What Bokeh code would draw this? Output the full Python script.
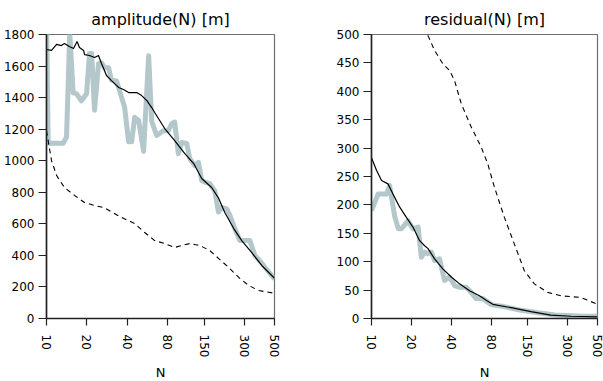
from bokeh.plotting import figure
from bokeh.layouts import row
from bokeh.models import Range1d, FixedTicker, NumeralTickFormatter
from bokeh.embed import file_html
from bokeh.resources import INLINE

# ---------------- data ----------------
x_ticks = [10, 20, 40, 80, 150, 300, 500]
amp_y_ticks = [0, 200, 400, 600, 800, 1000, 1200, 1400, 1600, 1800]
res_y_ticks = [0, 50, 100, 150, 200, 250, 300, 350, 400, 450, 500]

# amplitude panel
amp_raw_n = [10, 10.3, 13.3, 14.1, 14.9, 15.8, 16.7, 18.2, 19.9, 20.9,
             21.7, 22.8, 24.4, 25.7, 27.1, 29, 30.5, 33.3, 36.3, 38.2,
             40.9, 43.1, 45.4, 48.6, 52.9, 57.7, 60.8, 66.2, 74.3, 80.9,
             85.7, 90.2, 96.1, 101.7, 110.8, 116.7, 127.2, 135.5, 143.4, 151,
             164.6, 179.3, 191.1, 202.3, 220.3, 232.1, 252.9, 275.5, 300.2, 327.2,
             356.6, 402.1, 453.6, 500]
amp_raw_v = [1900, 1110, 1110, 1150, 1810, 1430, 1425, 1380, 1425, 1680,
             1680, 1320, 1615, 1620, 1590, 1590, 1510, 1505, 1400, 1340,
             1120, 1120, 1275, 1255, 1060, 1665, 1250, 1160, 1190, 1190,
             1235, 1245, 1045, 1115, 1110, 1015, 970, 990, 875, 865,
             855, 810, 675, 705, 695, 655, 570, 495, 495, 495,
             400, 350, 295, 250]

amp_fit_n = [10, 10.9, 11.9, 12.9, 13.6, 14.8, 15.9, 16.9, 17.6, 18.9,
             19.2, 20.9, 22.8, 24.4, 25.7, 28, 30.5, 34.5, 37.5, 40.9,
             47, 51.2, 55.8, 60.8, 64, 76, 90.2, 107, 125, 143.4,
             170, 192, 213, 248.5, 285, 338.6, 402, 500]
amp_fit_v = [1705, 1699, 1737, 1730, 1743, 1724, 1711, 1756, 1718, 1699,
             1673, 1667, 1654, 1667, 1616, 1540, 1508, 1464, 1451, 1432,
             1432, 1413, 1382, 1337, 1306, 1204, 1128, 1046, 982, 887,
             830, 761, 672, 570, 494, 418, 336, 255]

amp_ref_n = [10, 10.9, 11.9, 13.6, 16.2, 19.2, 22.8, 26.6, 36.3, 45.4,
             53.9, 64, 76, 90.2, 101.7, 116.7, 138.6, 164.6, 192, 228,
             271, 321.6, 382, 500]
amp_ref_v = [1190, 1001, 906, 830, 780, 735, 716, 704, 640, 602,
             545, 494, 475, 450, 463, 475, 463, 431, 380, 323,
             260, 209, 177, 160]

# residual panel
res_raw_n = [10, 11.2, 13, 13.7, 14.9, 15.9, 16.8, 18.8, 20.5, 22.4,
             23.7, 25.1, 26.6, 28.2, 29.8, 32.5, 35.4, 38.6, 42.1, 45.9,
             51.5, 56.2, 61.2, 68.7, 80, 99, 130, 178, 240, 316, 400, 500]
res_raw_v = [190, 219, 219, 234, 181, 158, 158, 172, 158, 161,
             108, 117, 114, 117, 102, 105, 67, 73, 58, 55,
             55, 46, 35, 35, 24, 21, 15, 10, 6, 5, 4, 4]

res_fit_n = [10, 10.9, 11.9, 13.3, 14.5, 16.3, 18.3, 20.5, 23, 25.1,
             26.6, 29.8, 34.5, 39.8, 45.9, 54.6, 64.8, 72.8, 81.7, 112,
             158, 223, 316, 500]
res_fit_v = [283, 261, 243, 237, 219, 196, 178, 161, 137, 128,
             123, 105, 87, 73, 61, 49, 40, 32, 25, 19,
             12, 6, 4, 3]

res_ref_n = [25, 26.6, 29.8, 34.5, 38.6, 42.1, 47.3, 56.2, 66.7, 74.9,
             84, 99.8, 118.6, 141, 167.5, 211, 265.5, 375, 500]
res_ref_v = [530, 498, 472, 448, 437, 419, 378, 337, 302, 272,
             231, 178, 131, 84, 61, 46, 40, 37, 25]

GREY = "#b4c7ca"
FONT = "DejaVu Sans"


def make_panel(title, y_max, y_ticks, raw, fit, ref, frame_w, border_left, border_right):
    p = figure(frame_width=frame_w, frame_height=284,
               x_axis_type="log",
               x_range=Range1d(10, 500), y_range=Range1d(0, y_max),
               output_backend="svg", toolbar_location=None,
               min_border_left=border_left, min_border_right=border_right,
               min_border_top=34, min_border_bottom=62,
               title=title)
    p.title.align = "center"
    p.title.text_font = FONT
    p.title.text_font_size = "16px"
    p.title.text_font_style = "normal"
    p.title.text_color = "black"
    p.title.standoff = 12
    p.title.offset = 0

    p.line(raw[0], raw[1], line_color=GREY, line_width=5, line_join="round")
    p.line(fit[0], fit[1], line_color="black", line_width=1.2)
    p.line(ref[0], ref[1], line_color="black", line_width=1.1, line_dash="5 4")

    p.xgrid.visible = False
    p.ygrid.visible = False
    p.outline_line_color = "#6e6e6e"
    p.outline_line_width = 1.2
    p.background_fill_color = "white"
    p.border_fill_color = "white"

    p.xaxis.ticker = FixedTicker(ticks=x_ticks)
    p.xaxis.formatter = NumeralTickFormatter(format="0")
    p.xaxis.major_label_orientation = "vertical"
    p.xaxis.axis_label = "N"
    p.xaxis.axis_label_standoff = 5
    p.xaxis.major_label_standoff = 9
    p.xaxis.major_tick_out = 7

    p.yaxis.ticker = FixedTicker(ticks=y_ticks)
    p.yaxis.major_label_standoff = 4
    p.yaxis.major_tick_out = 8

    for ax in (p.xaxis, p.yaxis):
        ax.axis_line_color = "#222222"
        ax.axis_line_width = 1.6
        ax.major_tick_line_color = "#222222"
        ax.major_tick_line_width = 1.2
        ax.major_tick_in = 0
        ax.minor_tick_line_color = None
        ax.major_label_text_font = FONT
        ax.major_label_text_font_size = "12px"
        ax.major_label_text_color = "black"
        ax.axis_label_text_font = FONT
        ax.axis_label_text_font_size = "13px"
        ax.axis_label_text_font_style = "normal"
        ax.axis_label_text_color = "black"
    return p


p1 = make_panel("amplitude(N) [m]", 1800, amp_y_ticks,
                (amp_raw_n, amp_raw_v), (amp_fit_n, amp_fit_v), (amp_ref_n, amp_ref_v),
                228, 45, 20)
p2 = make_panel("residual(N) [m]", 500, res_y_ticks,
                (res_raw_n, res_raw_v), (res_fit_n, res_fit_v), (res_ref_n, res_ref_v),
                226, 77, 7)

layout = row(p1, p2)
open("out.html", "w").write(file_html(layout, INLINE))
